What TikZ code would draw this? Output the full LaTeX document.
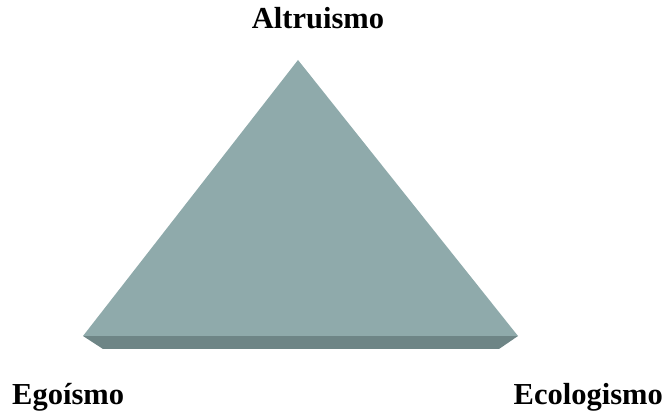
\documentclass[tikz,border=0pt]{standalone}
\usepackage{fontspec}
\setmainfont{Liberation Serif}
\usetikzlibrary{positioning}

\definecolor{facegray}{HTML}{8FAAAB}
\definecolor{edgegray}{HTML}{6E8586}

\begin{document}
\begin{tikzpicture}[
    x=1pt, y=-1pt,
    label/.style={font=\fontsize{30.5}{33}\selectfont\bfseries, inner sep=0pt},
    face/.style={fill=facegray, draw=none},
    bevel/.style={fill=edgegray, draw=none}
]
    \useasboundingbox (0,0) rectangle (665,414);

    % Corners of the triangle
    \coordinate (apex)  at (298,60);
    \coordinate (left)  at (83,336);
    \coordinate (right) at (518,336);
    \coordinate (bl)    at (103,349);
    \coordinate (br)    at (499,349);

    % Triangle with bevelled base
    \fill [bevel] (left) -- (right) -- (br) -- (bl) -- cycle;
    \fill [face] (apex) -- (right) -- (left) -- cycle;

    % Labels
    \node [label, anchor=base] (altruismo) at (318,29) {Altruismo};
    \node [label, anchor=base west] (egoismo) at (12,405) {Egoísmo};
    \node [label, anchor=base east] (ecologismo) at (663,405) {Ecologismo};

\end{tikzpicture}
\end{document}
